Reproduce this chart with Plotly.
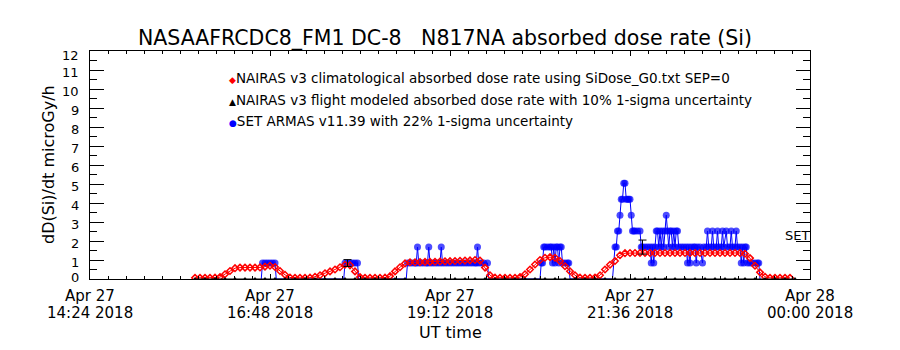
import pandas as pd
import plotly.graph_objects as go

# ------------------------------------------------------------------ data
DAY = "2018-04-27"
x_range = ["2018-04-27 14:24", "2018-04-28 00:00"]
x_tick_times = ["2018-04-27 14:24", "2018-04-27 16:48", "2018-04-27 19:12",
                "2018-04-27 21:36", "2018-04-28 00:00"]
x_tick_dates = ["Apr 27", "Apr 27", "Apr 27", "Apr 27", "Apr 28"]
x_tick_clock = ["14:24 2018", "16:48 2018", "19:12 2018", "21:36 2018", "00:00 2018"]
y_tick_values = [0, 1, 2, 3, 4, 5, 6, 7, 8, 9, 10, 11, 12]
y_tick_labels = ["0", "1", "2", "3", "4", "5", "6", "7", "8", "9", "10", "11", "12"]

title_text = "NASAAFRCDC8_FM1 DC-8\u00a0\u00a0\u00a0N817NA absorbed dose rate (Si)"
x_title = "UT time"
y_title = "dD(Si)/dt microGy/h"
legend_labels = [
    "NAIRAS v3 climatological absorbed dose rate using SiDose_G0.txt SEP=0",
    "NAIRAS v3 flight modeled absorbed dose rate with 10% 1-sigma uncertainty",
    "SET ARMAS v11.39 with 22% 1-sigma uncertainty",
]
set_label = "SET"
set_label_y = 2.3

# NAIRAS climatological dose rate, sampled every 4 minutes from 15:48 UT
clim_start = "2018-04-27 15:48"
clim_step = "4min"
nairas_clim = [
    0.06, 0.06, 0.06, 0.06, 0.07, 0.10, 0.25, 0.42, 0.57, 0.60,
    0.60, 0.60, 0.60, 0.61, 0.65, 0.70, 0.63, 0.42, 0.22, 0.08,
    0.06, 0.06, 0.06, 0.07, 0.12, 0.20, 0.30, 0.40, 0.50, 0.62,
    0.75, 0.72, 0.40, 0.10, 0.06, 0.06, 0.06, 0.06, 0.07, 0.15,
    0.40, 0.62, 0.82, 0.88, 0.88, 0.89, 0.90, 0.90, 0.91, 0.92,
    0.93, 0.94, 0.95, 0.96, 0.97, 0.98, 1.00, 0.97, 0.60, 0.20,
    0.07, 0.06, 0.06, 0.06, 0.06, 0.10, 0.25, 0.50, 0.76, 1.00,
    1.12, 1.15, 1.12, 0.94, 0.67, 0.41, 0.20, 0.07, 0.06, 0.06,
    0.08, 0.20, 0.50, 0.75, 0.95, 1.25, 1.36, 1.37, 1.37, 1.37,
    1.37, 1.37, 1.37, 1.37, 1.37, 1.37, 1.37, 1.37, 1.37, 1.37,
    1.37, 1.37, 1.37, 1.37, 1.37, 1.37, 1.37, 1.37, 1.37, 1.37,
    1.33, 1.10, 0.70, 0.35, 0.12, 0.06, 0.06, 0.06, 0.06, 0.06,
]

# NAIRAS flight-modeled dose rate, every 8 minutes from 15:48 UT (at zero)
flight_start = "2018-04-27 15:48"
flight_step = "8min"
nairas_flight = [
    0.0, 0.0, 0.0, 0.0, 0.0, 0.0, 0.0, 0.0, 0.0, 0.0,
    0.0, 0.0, 0.0, 0.0, 0.0, 0.0, 0.0, 0.0, 0.0, 0.0,
    0.0, 0.0, 0.0, 0.0, 0.0, 0.0, 0.0, 0.0, 0.0, 0.0,
    0.0, 0.0, 0.0, 0.0, 0.0, 0.0, 0.0, 0.0, 0.0, 0.0,
    0.0, 0.0, 0.0, 0.0, 0.0, 0.0, 0.0, 0.0, 0.0, 0.0,
    0.0, 0.0, 0.0, 0.0, 0.0, 0.0, 0.0, 0.0, 0.0, 0.0,
    0.0,
]

# SET ARMAS measured dose rate (UT time, microGy/h), one list per flight
set_flight1 = [("16:41", 0), ("16:42", 0.84), ("16:44", 0.84), ("16:46", 0.84),
               ("16:48", 0.84), ("16:50", 0.84), ("16:52", 0.84), ("16:53", 0)]
set_flight2 = [("17:47", 0), ("17:48", 0.84), ("17:50", 0.84), ("17:52", 0.84),
               ("17:54", 0.84), ("17:56", 0.84), ("17:58", 0.84), ("17:59", 0)]
set_flight3 = [
    ("18:37", 0), ("18:38", 0.84), ("18:40", 0.84), ("18:42", 0.84), ("18:44", 0.84),
    ("18:45", 0.84), ("18:46", 1.68), ("18:47", 0.84), ("18:49", 0.84), ("18:51", 0.84),
    ("18:53", 0.84), ("18:54", 0.84), ("18:55", 1.68), ("18:56", 0.84), ("18:58", 0.84),
    ("19:00", 0.84), ("19:02", 0.84), ("19:04", 0.84), ("19:05", 1.68), ("19:06", 0.84),
    ("19:08", 0.84), ("19:10", 0.84), ("19:12", 0.84), ("19:14", 0.84), ("19:16", 0.84),
    ("19:18", 0.84), ("19:20", 0.84), ("19:22", 0.84), ("19:24", 0.84), ("19:26", 0.84),
    ("19:28", 0.84), ("19:30", 0.84), ("19:32", 0.84), ("19:33", 0.84), ("19:34", 1.68),
    ("19:35", 0.84), ("19:37", 0.84), ("19:39", 0.84), ("19:42", 0.84), ("19:43", 0),
]
set_flight4 = [
    ("20:24", 0), ("20:25", 0.84), ("20:26", 0.84), ("20:27", 1.68), ("20:28", 1.68),
    ("20:30", 1.68), ("20:32", 1.68), ("20:33", 1.68), ("20:34", 0.84), ("20:35", 1.68),
    ("20:36", 0.84), ("20:37", 1.68), ("20:38", 1.68), ("20:39", 0.84), ("20:40", 1.68),
    ("20:41", 1.68), ("20:42", 0.84), ("20:44", 0.84), ("20:46", 0.84), ("20:47", 0.84),
    ("20:48", 0),
]
set_flight5 = [
    ("21:22", 0), ("21:24", 1.68), ("21:25", 1.68), ("21:26", 2.52), ("21:27", 2.52),
    ("21:28", 3.36), ("21:29", 4.2), ("21:30", 4.2), ("21:31", 5.04), ("21:32", 5.04),
    ("21:33", 4.2), ("21:34", 4.2), ("21:35", 4.2), ("21:36", 4.2), ("21:37", 3.36),
    ("21:38", 2.52), ("21:39", 2.52), ("21:40", 2.52), ("21:42", 2.52), ("21:44", 2.52),
    ("21:45", 1.68), ("21:46", 1.68), ("21:48", 1.68), ("21:50", 1.68), ("21:52", 1.68),
    ("21:53", 0.84), ("21:54", 1.68), ("21:55", 0.84), ("21:56", 1.68), ("21:57", 2.52),
    ("21:58", 2.52), ("21:59", 1.68), ("22:00", 2.52), ("22:01", 1.68), ("22:02", 2.52),
    ("22:03", 1.68), ("22:04", 2.52), ("22:05", 3.36), ("22:06", 2.52), ("22:07", 1.68),
    ("22:08", 2.52), ("22:09", 2.52), ("22:10", 1.68), ("22:11", 2.52), ("22:12", 1.68),
    ("22:13", 2.52), ("22:14", 2.52), ("22:15", 1.68), ("22:17", 1.68), ("22:19", 1.68),
    ("22:21", 1.68), ("22:22", 0.84), ("22:23", 1.68), ("22:24", 0.84), ("22:25", 1.68),
    ("22:27", 1.68), ("22:28", 1.68), ("22:29", 0.84), ("22:30", 1.68), ("22:32", 1.68),
    ("22:34", 0.84), ("22:35", 1.68), ("22:37", 1.68), ("22:38", 2.52), ("22:39", 1.68),
    ("22:41", 1.68), ("22:42", 2.52), ("22:43", 1.68), ("22:45", 1.68), ("22:46", 2.52),
    ("22:47", 1.68), ("22:49", 1.68), ("22:50", 2.52), ("22:51", 1.68), ("22:53", 2.52),
    ("22:54", 1.68), ("22:56", 1.68), ("22:57", 2.52), ("22:58", 1.68), ("23:00", 1.68),
    ("23:01", 2.52), ("23:02", 1.68), ("23:04", 1.68), ("23:05", 0.84), ("23:06", 1.68),
    ("23:07", 0.84), ("23:08", 1.68), ("23:09", 1.68), ("23:10", 0.84), ("23:12", 0.84),
    ("23:14", 0.84), ("23:16", 0.84), ("23:18", 0.84), ("23:19", 0.84), ("23:20", 0),
]

# representative 1-sigma uncertainty bars
err_times = ["2018-04-27 17:50", "2018-04-27 21:46"]
err_values = [0.84, 1.68]
err_sigma = [0.18, 0.37]

# ------------------------------------------------------------------ build
FONT = "DejaVu Sans"
RED = "rgb(255,0,0)"
BLUE = "rgb(0,0,255)"

clim_times = pd.date_range(start=clim_start, periods=len(nairas_clim), freq=clim_step)
flight_times = pd.date_range(start=flight_start, periods=len(nairas_flight), freq=flight_step)

set_points = set_flight1 + set_flight2 + set_flight3 + set_flight4 + set_flight5
set_times = [pd.Timestamp(f"{DAY} {t}") for t, _ in set_points]
set_values = [v for _, v in set_points]
set_sizes = [7 if v > 0 else 0 for v in set_values]

fig = go.Figure()

fig.add_trace(go.Scatter(
    x=set_times, y=set_values, mode="lines+markers",
    line=dict(color=BLUE, width=1),
    marker=dict(symbol="circle", size=set_sizes, color=BLUE, line=dict(width=0)),
    name=legend_labels[2],
))
fig.add_trace(go.Scatter(
    x=clim_times, y=nairas_clim, mode="lines+markers",
    line=dict(color=RED, width=1),
    marker=dict(symbol="diamond-open", size=5, color=RED, line=dict(width=1.5, color=RED)),
    name=legend_labels[0],
))
fig.add_trace(go.Scatter(
    x=flight_times, y=nairas_flight, mode="lines+markers",
    line=dict(color="black", width=1),
    marker=dict(symbol="triangle-up", size=4, color="black"),
    name=legend_labels[1],
))
fig.add_trace(go.Scatter(
    x=pd.to_datetime(err_times), y=err_values, mode="markers",
    marker=dict(size=1, color="black"),
    error_y=dict(type="data", array=err_sigma, color="black", thickness=1, width=4),
    name="uncertainty",
))

annotations = []
# x tick labels (two stacked lines, IDL style)
for t, d, c in zip(x_tick_times, x_tick_dates, x_tick_clock):
    annotations.append(dict(x=t, xref="x", y=0, yref="paper", text=d, showarrow=False,
                            xanchor="center", yanchor="middle", yshift=-17,
                            font=dict(size=15)))
    annotations.append(dict(x=t, xref="x", y=0, yref="paper", text=c, showarrow=False,
                            xanchor="center", yanchor="middle", yshift=-34,
                            font=dict(size=15)))
# y tick labels
for v, lab in zip(y_tick_values, y_tick_labels):
    shift = -2
    if v == y_tick_values[0]:
        shift = 2
    elif v == y_tick_values[-1]:
        shift = -4
    annotations.append(dict(x=0, xref="paper", y=v, yref="y", text=lab, showarrow=False,
                            xanchor="right", yanchor="middle", xshift=-9, yshift=shift,
                            font=dict(size=13)))
# axis titles
annotations.append(dict(x=0.5, xref="paper", y=0, yref="paper", text=x_title,
                        showarrow=False, xanchor="center", yanchor="middle", yshift=-53,
                        font=dict(size=16)))
annotations.append(dict(x=0, xref="paper", y=0.5, yref="paper", text=y_title,
                        showarrow=False, xanchor="center", yanchor="middle", xshift=-42,
                        textangle=-90, font=dict(size=16)))
# legend (symbol + text)
legend_symbols = [("\u25c6", RED), ("\u25b2", "black"), ("\u25cf", BLUE)]
legend_y = [0.882, 0.785, 0.693]
for (sym, col), lab, ly in zip(legend_symbols, legend_labels, legend_y):
    annotations.append(dict(
        x=0.19, xref="paper", y=ly, yref="paper", showarrow=False,
        xanchor="left", yanchor="middle",
        text=f"<span style='color:{col};font-size:9px'>{sym}</span>{lab}",
        font=dict(size=13.5)))
# SET label at right edge
annotations.append(dict(x=1, xref="paper", y=set_label_y, yref="y", text=set_label,
                        showarrow=False, xanchor="right", yanchor="middle", xshift=1,
                        font=dict(size=13)))

fig.update_layout(
    width=900, height=350,
    margin=dict(l=90, r=90, t=51, b=71, autoexpand=False),
    paper_bgcolor="white", plot_bgcolor="white",
    showlegend=False,
    font=dict(family=FONT, size=14, color="black"),
    title=dict(text=title_text, x=445 / 900, xanchor="center", xref="container",
               y=1 - 38 / 350, yanchor="middle", yref="container",
               font=dict(size=20.5, family=FONT, color="black")),
    annotations=annotations,
)
fig.update_xaxes(
    type="date", range=x_range, tick0=x_range[0], dtick=8640000,
    ticks="inside", ticklen=5, tickwidth=1, tickcolor="black",
    showline=True, linecolor="black", linewidth=1, mirror="ticks",
    showgrid=False, zeroline=False, showticklabels=False,
    minor=dict(ticks="inside", ticklen=3, tick0=x_range[0], dtick=864000,
               tickcolor="black", tickwidth=1, showgrid=False),
)
fig.update_yaxes(
    range=[0, 12], tick0=0, dtick=1,
    ticks="inside", ticklen=14, tickwidth=1, tickcolor="black",
    showline=True, linecolor="black", linewidth=1, mirror="ticks",
    showgrid=False, zeroline=False, showticklabels=False,
    minor=dict(ticks="inside", ticklen=7, tick0=0, dtick=0.5,
               tickcolor="black", tickwidth=1, showgrid=False),
)

fig.write_html("out.html")
